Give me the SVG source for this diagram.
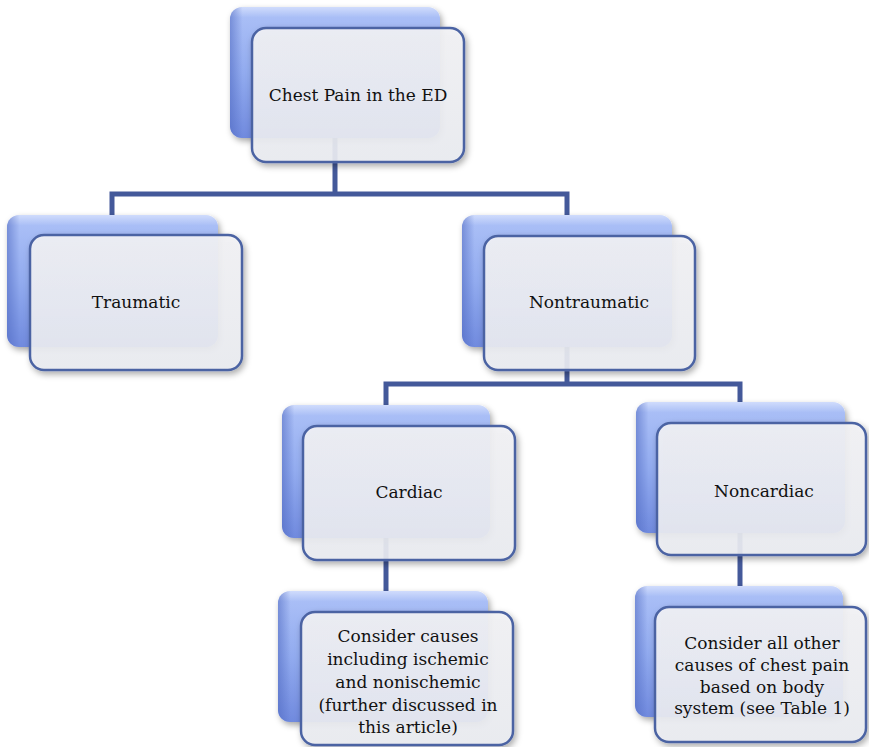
<svg xmlns="http://www.w3.org/2000/svg" width="869" height="747" viewBox="0 0 869 747">
<defs>
<linearGradient id="blue" x1="0" y1="0" x2="0" y2="1">
<stop offset="0" stop-color="#d0dcfc"/>
<stop offset="0.08" stop-color="#a9bef6"/>
<stop offset="0.5" stop-color="#92abef"/>
<stop offset="1" stop-color="#708ade"/>
</linearGradient>
<linearGradient id="blueSide" x1="0" y1="0" x2="1" y2="0">
<stop offset="0" stop-color="#4e68c0" stop-opacity="0.55"/>
<stop offset="0.06" stop-color="#4e68c0" stop-opacity="0"/>
<stop offset="1" stop-color="#4e68c0" stop-opacity="0"/>
</linearGradient>
<linearGradient id="white" x1="0" y1="0" x2="0" y2="1">
<stop offset="0" stop-color="#f3f3f6"/>
<stop offset="1" stop-color="#ebedf2"/>
</linearGradient>
<filter id="sh" x="-10%" y="-10%" width="125%" height="130%">
<feDropShadow dx="2" dy="3" stdDeviation="3" flood-color="#000" flood-opacity="0.35"/>
</filter>
</defs>
<style>
.back{fill:url(#blue);filter:url(#sh)}
.side{fill:url(#blueSide)}
.front{fill:url(#white);fill-opacity:0.9;stroke:#4b63a3;stroke-width:2.5;filter:url(#sh)}
.conn{fill:none;stroke:#44599a;stroke-width:5;stroke-linecap:butt;stroke-linejoin:miter}
text{font-family:"DejaVu Serif","Liberation Serif",serif;font-size:17px;fill:#111;text-anchor:middle;dominant-baseline:central}
</style>
<rect width="869" height="747" fill="#fff"/>
<g id="connectors">
<path class="conn" d="M335 138 V194 M112 215 V194 H567 V215"/>
<path class="conn" d="M567 347 V384 M386 405 V384 H740 V402"/>
<path class="conn" d="M386 538 V591"/>
<path class="conn" d="M740 533 V586"/>
</g>
<g id="root">
<rect class="back" x="230" y="7" width="210" height="131" rx="12"/>
<rect class="side" x="230" y="7" width="210" height="131" rx="12"/>
<rect class="front" x="252" y="28" width="212" height="134" rx="14"/>
<text x="358" y="95">Chest Pain in the ED</text>
</g>
<g id="traumatic">
<rect class="back" x="7" y="215" width="211" height="132" rx="12"/>
<rect class="side" x="7" y="215" width="211" height="132" rx="12"/>
<rect class="front" x="30" y="235" width="212" height="135" rx="14"/>
<text x="136" y="302">Traumatic</text>
</g>
<g id="nontraumatic">
<rect class="back" x="462" y="215" width="210" height="132" rx="12"/>
<rect class="side" x="462" y="215" width="210" height="132" rx="12"/>
<rect class="front" x="484" y="236" width="211" height="134" rx="14"/>
<text x="589" y="302">Nontraumatic</text>
</g>
<g id="cardiac">
<rect class="back" x="282" y="405" width="208" height="133" rx="12"/>
<rect class="side" x="282" y="405" width="208" height="133" rx="12"/>
<rect class="front" x="303" y="426" width="212" height="134" rx="14"/>
<text x="409" y="492">Cardiac</text>
</g>
<g id="noncardiac">
<rect class="back" x="636" y="402" width="209" height="131" rx="12"/>
<rect class="side" x="636" y="402" width="209" height="131" rx="12"/>
<rect class="front" x="657" y="423" width="209" height="132" rx="14"/>
<text x="764" y="491">Noncardiac</text>
</g>
<g id="cardiac-causes">
<rect class="back" x="278" y="591" width="210" height="131" rx="12"/>
<rect class="side" x="278" y="591" width="210" height="131" rx="12"/>
<rect class="front" x="301" y="612" width="212" height="133" rx="14"/>
<text x="408" y="636">Consider causes</text>
<text x="408" y="659">including ischemic</text>
<text x="408" y="682">and nonischemic</text>
<text x="408" y="705">(further discussed in</text>
<text x="408" y="727">this article)</text>
</g>
<g id="noncardiac-causes">
<rect class="back" x="635" y="586" width="208" height="131" rx="12"/>
<rect class="side" x="635" y="586" width="208" height="131" rx="12"/>
<rect class="front" x="655" y="607" width="211" height="135" rx="14"/>
<text x="762" y="643">Consider all other</text>
<text x="762" y="665">causes of chest pain</text>
<text x="762" y="687">based on body</text>
<text x="762" y="708">system (see Table 1)</text>
</g>
</svg>
